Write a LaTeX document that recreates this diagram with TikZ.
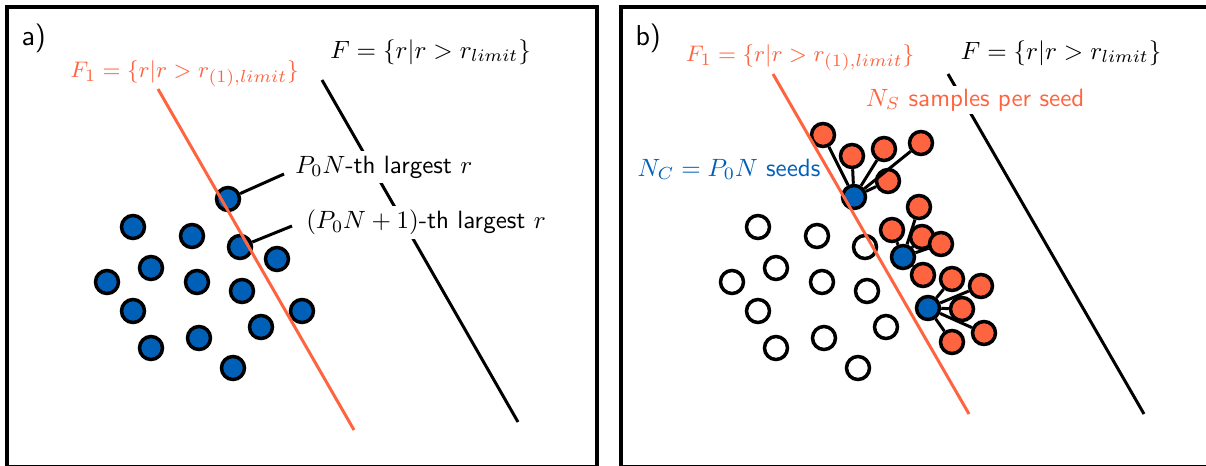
\documentclass[tikz,border=0pt]{standalone}
\usepackage{xcolor}
\definecolor{myorange}{RGB}{255,100,64}
\definecolor{myblue}{RGB}{0,96,184}
\begin{document}
\begin{tikzpicture}[x=0.4pt,y=-0.4pt,
  font=\sffamily\fontsize{10}{12}\selectfont,
  dot/.style={circle,draw=black,line width=1.4pt,minimum size=9.2pt,inner sep=0pt},
  bluedot/.style={dot,fill=myblue},
  orangedot/.style={dot,fill=myorange},
  emptydot/.style={dot,fill=white},
  panel/.style={draw=black,line width=1.3pt},
  bound/.style={line width=1.2pt},
  lbl/.style={inner sep=0pt,text height=7.5pt,text depth=2.5pt},
  flbl/.style={inner sep=0pt,font=\sffamily\fontsize{9.3}{11}\selectfont},
  plbl/.style={inner sep=0pt,font=\sffamily\fontsize{11.5}{13}\selectfont},
  wlbl/.style={fill=white,inner sep=1.5pt,text height=7.5pt,text depth=2.5pt},
  leader/.style={line width=1.2pt}]
\useasboundingbox (0,0) rectangle (1206,466);
\clip (0,0) rectangle (1206,466);

% panels
\draw[panel] (7,7) rectangle (597,467);
\draw[panel] (621,7) rectangle (1215,467);

\node[plbl,anchor=west] (la) at (21,38) {a)};
\node[plbl,anchor=west] (lb) at (635,38) {b)};

% ---------------- panel a ----------------
\coordinate (ao1) at (158,89);
\coordinate (ao2) at (354,430);
\coordinate (ak1) at (322,80);
\coordinate (ak2) at (518,422);
\draw[bound] (ak1) -- (ak2);

\node[flbl,text=myorange] (fa1) at (184.5,74) {$F_1=\{r|r>r_{(1),limit}\}$};
\node[lbl] (fa) at (430.5,52) {$F=\{r|r>r_{limit}\}$};
\node[wlbl,anchor=west] (pn) at (291,167) {$P_0N$-th largest $r$};
\node[wlbl,anchor=west] (pn1) at (302,222.5) {$(P_0N+1)$-th largest $r$};

\node[bluedot] (a1) at (228,199) {};
\node[bluedot] (a2) at (133,227) {};
\node[bluedot] (a3) at (192,236) {};
\node[bluedot] (a4) at (240,247) {};
\node[bluedot] (a5) at (277,259) {};
\node[bluedot] (a6) at (151,268) {};
\node[bluedot] (a7) at (107,282) {};
\node[bluedot] (a8) at (197,282) {};
\node[bluedot] (a9) at (242,291) {};
\node[bluedot] (a10) at (133,311) {};
\node[bluedot] (a11) at (302,311) {};
\node[bluedot] (a12) at (261,327) {};
\node[bluedot] (a13) at (151,348) {};
\node[bluedot] (a14) at (199,338) {};
\node[bluedot] (a15) at (233,368) {};

\coordinate (le1) at (284,174);
\coordinate (le2) at (292,226);
\draw[leader] (a1) -- (le1);
\draw[leader] (a4) -- (le2);

\draw[bound,myorange] (ao1) -- (ao2);

% ---------------- panel b ----------------
\coordinate (bo1) at (773,74);
\coordinate (bo2) at (969,414);
\coordinate (bk1) at (948,74);
\coordinate (bk2) at (1144,414);
\draw[bound] (bk1) -- (bk2);

\node[flbl,text=myorange] (fb1) at (800,58) {$F_1=\{r|r>r_{(1),limit}\}$};
\node[lbl] (fb) at (1061,53) {$F=\{r|r>r_{limit}\}$};
\node[wlbl,inner sep=0.5pt,anchor=west,text=myorange] (ns) at (864,100) {$N_S$ samples per seed};
\node[lbl,anchor=west,text=myblue] (nc) at (637,170) {$N_C=P_0N$ seeds};

% unselected samples
\node[emptydot] (e1) at (758,227) {};
\node[emptydot] (e2) at (817,236) {};
\node[emptydot] (e3) at (865,247) {};
\node[emptydot] (e4) at (776,268) {};
\node[emptydot] (e5) at (732,282) {};
\node[emptydot] (e6) at (822,282) {};
\node[emptydot] (e7) at (867,291) {};
\node[emptydot] (e8) at (758,311) {};
\node[emptydot] (e9) at (886,327) {};
\node[emptydot] (e10) at (776,348) {};
\node[emptydot] (e11) at (824,338) {};
\node[emptydot] (e12) at (858,368) {};

% seeds
\node[bluedot] (c1) at (854,197) {};
\node[bluedot] (c2) at (903,257) {};
\node[bluedot] (c3) at (928,308) {};

% new samples
\node[orangedot] (s11) at (823,135) {};
\node[orangedot] (s12) at (852,156) {};
\node[orangedot] (s13) at (884,149) {};
\node[orangedot] (s14) at (921,143) {};
\node[orangedot] (s15) at (888,181) {};
\node[orangedot] (s21) at (919,207) {};
\node[orangedot] (s22) at (892,230) {};
\node[orangedot] (s23) at (922,237) {};
\node[orangedot] (s24) at (941,244) {};
\node[orangedot] (s25) at (923,275) {};
\node[orangedot] (s31) at (952,279) {};
\node[orangedot] (s32) at (981,286) {};
\node[orangedot] (s33) at (962,309) {};
\node[orangedot] (s34) at (984,333) {};
\node[orangedot] (s35) at (952,342) {};

\foreach \s in {s11,s12,s13,s14,s15} \draw[leader] (c1) -- (\s);
\foreach \s in {s21,s22,s23,s24,s25} \draw[leader] (c2) -- (\s);
\foreach \s in {s31,s32,s33,s34,s35} \draw[leader] (c3) -- (\s);

\draw[bound,myorange] (bo1) -- (bo2);
\end{tikzpicture}
\end{document}
